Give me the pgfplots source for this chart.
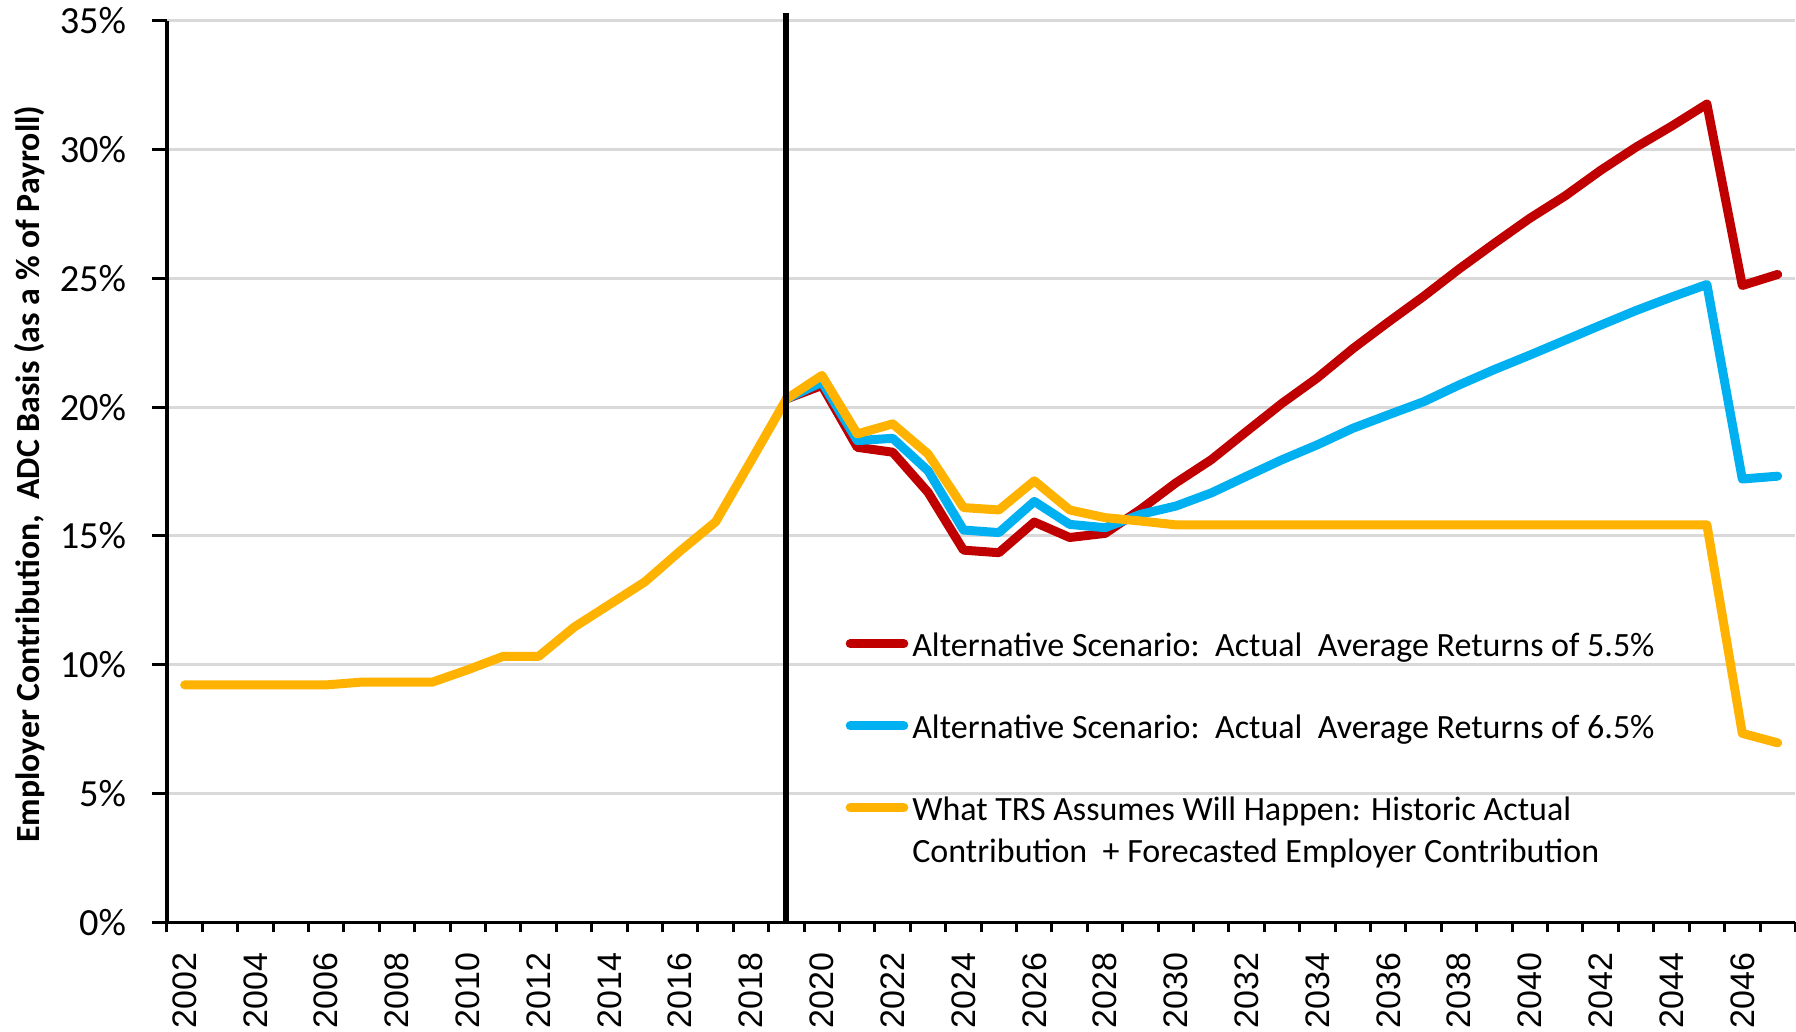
\documentclass[border=0pt]{standalone}
\usepackage{fontspec}
\setmainfont{Liberation Sans}
\newfontfamily\calibri{Carlito}
\usepackage{pgfplots}
\pgfplotsset{compat=1.18}
\definecolor{cred}{HTML}{C00000}
\definecolor{cblue}{HTML}{00B0F0}
\definecolor{cyel}{HTML}{FFB300}
\definecolor{cgrid}{HTML}{D9D9D9}
\pgfplotsset{
  oneline/.style={legend image code/.code={\draw[##1] (0pt,0pt) -- (26.8pt,0pt);}},
  twoline/.style={legend image code/.code={\draw[##1] (0pt,10.5pt) -- (26.8pt,10.5pt);}},
}
\begin{document}
\begin{tikzpicture}
\useasboundingbox (-83.5pt,-54.75pt) rectangle (814.5pt,461.25pt);
\begin{axis}[
  width=814.2pt, height=450.95pt, scale only axis,
  xmin=2001.5, xmax=2047.5, ymin=0, ymax=35,
  clip=false,
  axis x line*=bottom, axis y line*=left,
  axis line style={line width=1.6pt, black},
  tick align=outside,
  xtick={2002,2004,...,2046},
  xticklabels={2002,2004,2006,2008,2010,2012,2014,2016,2018,2020,2022,2024,2026,2028,2030,2032,2034,2036,2038,2040,2042,2044,2046},
  minor xtick={2001.5,2002.5,...,2047.5},
  every major x tick/.append style={draw=none},
  major tick length=7.5pt, minor tick length=5pt,
  tick style={black, line width=1.5pt},
  ytick={0,5,...,35},
  yticklabels={0\%,5\%,10\%,15\%,20\%,25\%,30\%,35\%},
  ymajorgrids, major grid style={cgrid, line width=1.5pt},
  yticklabel style={font=\calibri\fontsize{19.2}{20}\selectfont},
  yticklabel shift=9.4pt,
  xticklabel style={font=\fontsize{17}{18}\selectfont, rotate=90, anchor=east},
  xticklabel shift=4pt,
  ylabel={Employer Contribution,\ \ ADC Basis (as a \% of Payroll)},
  ylabel style={font=\calibri\bfseries\fontsize{16.9}{18}\selectfont, at={(axis description cs:-0.0845,0.497)}, anchor=center},
  legend cell align=left,
  legend style={at={(rel axis cs:0.4168,0.327)}, anchor=north west, draw=none, fill=none,
    inner sep=0pt, outer sep=0pt, row sep=24.8pt, column sep=2pt,
    font=\calibri\fontsize{17}{21}\selectfont, nodes={inner sep=0pt, align=left}},
  oneline,
  every axis plot/.append style={line width=4.5pt, line cap=round, line join=round},
]
\addplot[cred] coordinates {
(2019,20.32) (2020,20.84) (2021,18.44) (2022,18.25) (2023,16.69) (2024,14.45) (2025,14.35)
(2026,15.54) (2027,14.94) (2028,15.10) (2029,16.03) (2030,17.06) (2031,17.96) (2032,19.06)
(2033,20.15) (2034,21.14) (2035,22.27) (2036,23.30) (2037,24.30) (2038,25.36) (2039,26.36)
(2040,27.33) (2041,28.20) (2042,29.19) (2043,30.09) (2044,30.90) (2045,31.76) (2046,24.72) (2047,25.15)
};
\addlegendentry{\strut Alternative Scenario:\ \ Actual\ \ Average Returns of 5.5\%}
\addplot[cblue] coordinates {
(2019,20.32) (2020,20.97) (2021,18.70) (2022,18.79) (2023,17.53) (2024,15.23) (2025,15.13)
(2026,16.34) (2027,15.45) (2028,15.32) (2029,15.84) (2030,16.16) (2031,16.67) (2032,17.32)
(2033,17.96) (2034,18.54) (2035,19.18) (2036,19.70) (2037,20.21) (2038,20.86) (2039,21.46)
(2040,22.02) (2041,22.60) (2042,23.18) (2043,23.75) (2044,24.27) (2045,24.76) (2046,17.21) (2047,17.32)
};
\addlegendentry{\strut Alternative Scenario:\ \ Actual\ \ Average Returns of 6.5\%}
\addplot[cyel, twoline] coordinates {
(2002,9.22) (2003,9.22) (2004,9.22) (2005,9.22) (2006,9.22) (2007,9.33) (2008,9.33) (2009,9.33)
(2010,9.81) (2011,10.33) (2012,10.33) (2013,11.46) (2014,12.34) (2015,13.22) (2016,14.42)
(2017,15.55) (2018,17.92) (2019,20.32) (2020,21.23) (2021,18.96) (2022,19.35) (2023,18.18)
(2024,16.10) (2025,16.01) (2026,17.14) (2027,16.01) (2028,15.71) (2029,15.58) (2030,15.43)
(2031,15.43) (2032,15.43) (2033,15.43) (2034,15.43) (2035,15.43) (2036,15.43) (2037,15.43)
(2038,15.43) (2039,15.43) (2040,15.43) (2041,15.43) (2042,15.43) (2043,15.43) (2044,15.43)
(2045,15.43) (2046,7.34) (2047,6.97)
};
\addlegendentry{\strut What TRS Assumes Will Happen: Historic Actual\\\strut Contribution\ \ + Forecasted Employer Contribution}
\addplot[black, line width=3pt, line cap=butt, forget plot] coordinates {(2019,0) (2019,35.29)};
\end{axis}
\end{tikzpicture}
\end{document}
